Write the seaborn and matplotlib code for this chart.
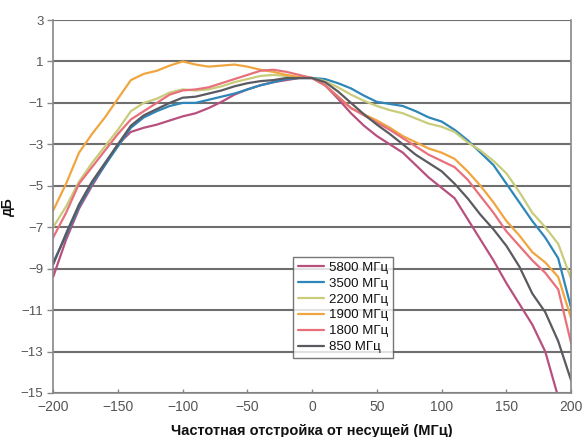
import numpy as np
import pandas as pd
import matplotlib
matplotlib.use("Agg")
import matplotlib.pyplot as plt
import seaborn as sns

offsets = list(range(-200, 201, 10))

s5800 = [-9.4, -7.6, -6.1, -5.0, -4.0, -3.0, -2.4, -2.2, -2.05, -1.85, -1.65, -1.5, -1.25, -0.95, -0.6, -0.35, -0.15, 0.0, 0.1, 0.2,
         0.2, -0.15, -0.8, -1.5, -2.1, -2.6, -3.0, -3.4, -4.0, -4.6, -5.1, -5.6, -6.6, -7.6, -8.6, -9.7, -10.7, -11.7, -13.0, -15.2, -16.5]
s3500 = [-8.7, -7.4, -6.0, -4.9, -4.0, -3.1, -2.2, -1.7, -1.4, -1.15, -1.0, -1.0, -0.85, -0.7, -0.55, -0.35, -0.15, 0.0, 0.15, 0.2,
         0.2, 0.15, -0.05, -0.3, -0.65, -0.95, -1.05, -1.15, -1.4, -1.7, -1.9, -2.3, -2.8, -3.4, -4.0, -4.9, -5.8, -6.7, -7.5, -8.5, -10.9]
s2200 = [-7.0, -6.0, -4.8, -3.9, -3.1, -2.3, -1.4, -1.0, -0.8, -0.5, -0.35, -0.4, -0.35, -0.2, 0.0, 0.15, 0.3, 0.35, 0.3, 0.2,
         0.2, 0.05, -0.25, -0.6, -0.9, -1.15, -1.35, -1.5, -1.75, -2.0, -2.15, -2.4, -2.9, -3.3, -3.8, -4.4, -5.3, -6.3, -7.0, -7.8, -9.5]
s1900 = [-6.2, -4.9, -3.4, -2.5, -1.7, -0.8, 0.1, 0.4, 0.55, 0.8, 1.0, 0.85, 0.75, 0.8, 0.85, 0.75, 0.6, 0.5, 0.35, 0.25,
         0.2, -0.15, -0.7, -1.25, -1.55, -1.85, -2.2, -2.6, -2.9, -3.2, -3.4, -3.7, -4.3, -5.0, -5.8, -6.7, -7.4, -8.2, -8.7, -9.4, -11.4]
s1800 = [-7.5, -6.3, -4.9, -4.1, -3.3, -2.5, -1.8, -1.4, -1.0, -0.6, -0.4, -0.35, -0.25, -0.05, 0.15, 0.35, 0.55, 0.6, 0.5, 0.35,
         0.2, -0.15, -0.7, -1.25, -1.6, -1.95, -2.3, -2.7, -3.1, -3.5, -3.8, -4.1, -4.7, -5.5, -6.3, -7.2, -7.9, -8.6, -9.2, -10.0, -12.6]
s850 = [-8.8, -7.3, -5.9, -4.8, -3.9, -3.0, -2.1, -1.6, -1.3, -1.0, -0.75, -0.7, -0.55, -0.4, -0.2, -0.05, 0.05, 0.1, 0.2, 0.2,
        0.2, 0.0, -0.45, -1.0, -1.55, -2.05, -2.5, -3.0, -3.5, -3.9, -4.3, -4.9, -5.6, -6.4, -7.1, -7.9, -8.9, -10.2, -11.1, -12.5, -14.4]

series_names = ["5800 МГц", "3500 МГц", "2200 МГц", "1900 МГц", "1800 МГц", "850 МГц"]
series_values = [s5800, s3500, s2200, s1900, s1800, s850]
colors = ["#b8507e", "#2f86b8", "#c9cc7a", "#f0a640", "#e8707a", "#5a5a60"]

x_ticks = [-200, -150, -100, -50, 0, 50, 100, 150, 200]
y_ticks = [3, 1, -1, -3, -5, -7, -9, -11, -13, -15]

rows = []
for name, vals in zip(series_names, series_values):
    for xv, yv in zip(offsets, vals):
        rows.append({"x": xv, "y": yv, "s": name})
df = pd.DataFrame(rows)

sns.set_theme(style="white")
plt.rcParams["font.family"] = ["Liberation Sans", "DejaVu Sans"]

fig = plt.figure(figsize=(5.84, 4.37), dpi=100)
ax = fig.add_axes([0.091, 0.1007, 0.887, 0.8535])

sns.lineplot(data=df, x="x", y="y", hue="s", hue_order=series_names,
             palette=dict(zip(series_names, colors)), linewidth=1.6, ax=ax,
             legend=False, sort=True)

ax.set_xlim(-200, 200)
ax.set_ylim(-15, 3)
ax.set_xticks(x_ticks)
ax.set_yticks(y_ticks)
ax.yaxis.grid(True, color="#6e6e6e", linewidth=1.5)
ax.xaxis.grid(False)
ax.set_axisbelow(True)

for sp in ["left", "bottom", "right"]:
    ax.spines[sp].set_color("#888888")
    ax.spines[sp].set_linewidth(1.2)
ax.spines["top"].set_visible(False)

ax.tick_params(axis="y", direction="out", length=4, width=1, color="#888888",
               labelsize=9.5, labelcolor="#555555", left=True, pad=3)
ax.tick_params(axis="x", direction="in", length=3, width=1, color="#888888",
               labelsize=10, labelcolor="#555555", bottom=True, pad=5)

ax.set_xlabel("Частотная отстройка от несущей (МГц)", fontsize=10.5, fontweight="bold",
              color="#111111", labelpad=7)
ax.set_ylabel("дБ", fontsize=10, fontweight="bold", color="#111111", labelpad=4)

handles = ax.get_lines()[:len(series_names)]
leg = ax.legend(handles, series_names, loc="lower left", bbox_to_anchor=(0.463, 0.094),
                frameon=True, fancybox=False, fontsize=9.5, handlelength=2.0,
                handletextpad=0.4, labelspacing=0.28, borderpad=0.35, borderaxespad=0)
leg.get_frame().set_edgecolor("#555555")
leg.get_frame().set_linewidth(1.0)
for t in leg.get_texts():
    t.set_color("#111111")

fig.savefig("out.png", dpi=100)
